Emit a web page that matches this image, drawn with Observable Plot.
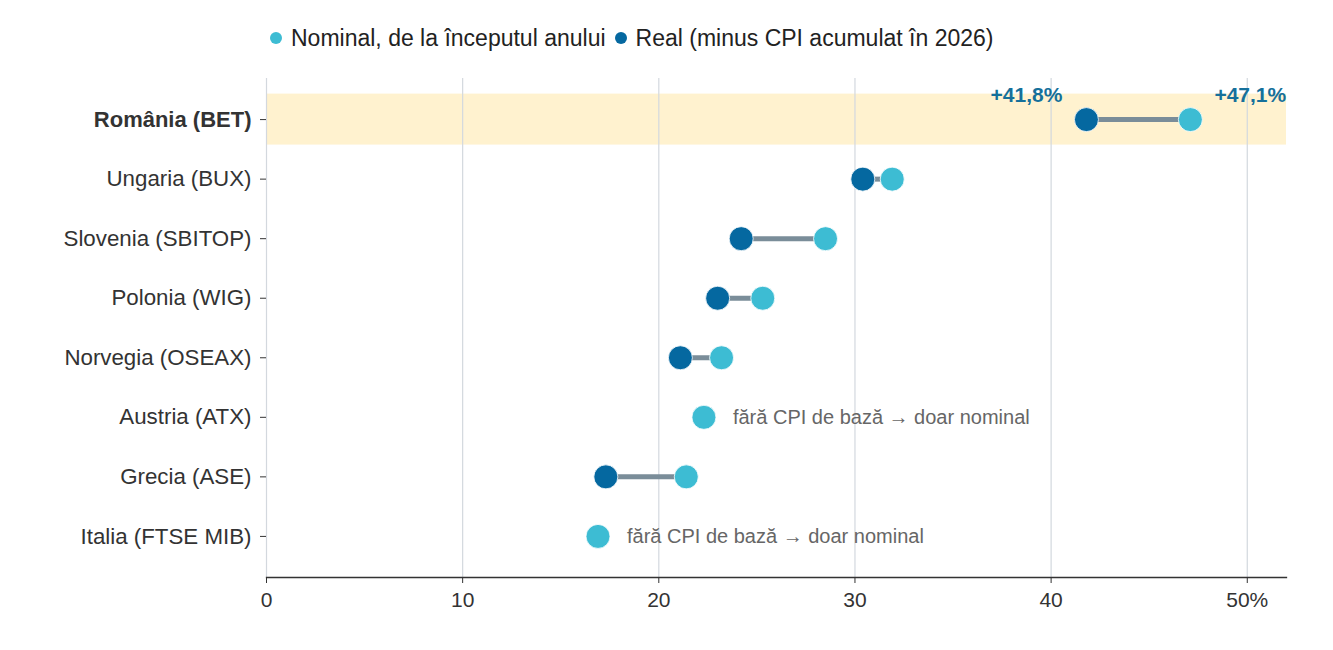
<!DOCTYPE html>
<html>
<head>
<meta charset="utf-8">
<script src="https://cdn.jsdelivr.net/npm/d3@7"></script>
<script src="https://cdn.jsdelivr.net/npm/@observablehq/plot@0.6"></script>
<style>
  html, body { margin: 0; padding: 0; background: #fff; }
  body { width: 1333px; height: 650px; overflow: hidden; font-family: "Liberation Sans", Arial, sans-serif; }
  .legend { height: 62px; padding-top: 14px; box-sizing: border-box; padding-left: 270px; display: flex; align-items: center; font-size: 23px; color: #222; margin: 0; }
  .legend .item { display: flex; align-items: center; margin-right: 9px; }
  .legend .sw { width: 12px; height: 12px; border-radius: 50%; margin-right: 9px; display: inline-block; }
  svg { display: block; }
</style>
</head>
<body>
<div id="chart"></div>
<script>
const categories = ["România (BET)", "Ungaria (BUX)", "Slovenia (SBITOP)", "Polonia (WIG)", "Norvegia (OSEAX)", "Austria (ATX)", "Grecia (ASE)", "Italia (FTSE MIB)"];
const nominal = [47.1, 31.9, 28.5, 25.3, 23.2, 22.3, 21.4, 16.9];
const real = [41.8, 30.4, 24.2, 23.0, 21.1, null, 17.3, null];
const xTicks = [0, 10, 20, 30, 40, 50];
const seriesNames = ["Nominal, de la începutul anului", "Real (minus CPI acumulat în 2026)"];
const noteText = "fără CPI de bază → doar nominal";
const highlight = "România (BET)";

const colNominal = "#3dbcd3";
const colReal = "#0568a0";

const rows = categories.map((c, i) => ({name: c, nominal: nominal[i], real: real[i]}));
const withReal = rows.filter(d => d.real != null);
const noReal = rows.filter(d => d.real == null);
const hl = rows.filter(d => d.name === highlight);

const legend = document.createElement("div");
legend.className = "legend";
legend.innerHTML = seriesNames.map((s, i) =>
  `<span class="item"><span class="sw" style="background:${i === 0 ? colNominal : colReal}"></span>${s}</span>`).join("");
document.getElementById("chart").appendChild(legend);

const font = "'Liberation Sans', Arial, sans-serif";

const plot = Plot.plot({
  width: 1333,
  height: 588,
  marginLeft: 266,
  marginRight: 47,
  marginTop: 16,
  marginBottom: 73,
  style: {fontFamily: font, fontSize: "21px", color: "#333", background: "#fff"},
  x: {domain: [0, 52], label: null},
  y: {domain: categories, paddingInner: 0.144, paddingOuter: 0.262, round: false, label: null},
  marks: [
    Plot.barX(hl, {x1: 0, x2: 52, y: "name", fill: "#fff2cf"}),
    Plot.gridX(xTicks, {stroke: "#d3d8de", strokeOpacity: 1, strokeWidth: 1.2}),
    Plot.axisX({ticks: xTicks, tickFormat: d => d === 50 ? "50%" : String(d), tickSize: 6, tickPadding: 9, fontSize: 21, stroke: "#333", fill: "#333", label: null}),
    Plot.frame({anchor: "bottom", stroke: "#333", strokeWidth: 1.3}),
    Plot.axisY({ticks: categories.filter(c => c !== highlight), tickSize: 6, tickPadding: 9, fontSize: 22.3, stroke: "#333", fill: "#333", label: null}),
    Plot.axisY({ticks: [highlight], tickSize: 6, tickPadding: 9, fontSize: 22, fontWeight: "bold", stroke: "#333", fill: "#333", label: null}),
    Plot.link(withReal, {x1: "real", x2: "nominal", y1: "name", y2: "name", stroke: "#7a8d99", strokeWidth: 5}),
    Plot.dot(withReal, {x: "real", y: "name", r: 12, fill: colReal, stroke: "white", strokeWidth: 0.8}),
    Plot.dot(rows, {x: "nominal", y: "name", r: 12, fill: colNominal, stroke: "white", strokeWidth: 0.8}),
    Plot.text(noReal, {x: "nominal", y: "name", text: () => noteText, textAnchor: "start", dx: 29, fill: "#666", fontSize: 20}),
    Plot.text(hl, {x: "real", y: "name", text: d => "+" + d.real.toFixed(1).replace(".", ",") + "%", textAnchor: "end", dx: -24, dy: -24, fill: "#15709b", fontSize: 21, fontWeight: "bold"}),
    Plot.text(hl, {x: "nominal", y: "name", text: d => "+" + d.nominal.toFixed(1).replace(".", ",") + "%", textAnchor: "start", dx: 24, dy: -24, fill: "#15709b", fontSize: 21, fontWeight: "bold"})
  ]
});
document.getElementById("chart").appendChild(plot);
</script>
</body>
</html>
